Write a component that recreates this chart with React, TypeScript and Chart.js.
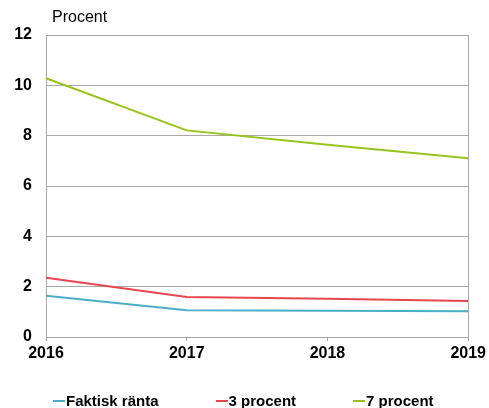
import React, { useEffect, useRef } from "react";
import { Chart, registerables } from "chart.js";

Chart.register(...registerables);

// Years on the x axis
const years = ["2016", "2017", "2018", "2019"];

// Interest rate paths, percent
const faktiskRanta = [1.64, 1.06, 1.04, 1.02];
const treProcent = [2.35, 1.59, 1.52, 1.43];
const sjuProcent = [10.28, 8.21, 7.64, 7.1];

const seriesNames = ["Faktisk ränta", "3 procent", "7 procent"];
const seriesColors = ["#4aafc6", "#e8464e", "#99c31a"];

const FONT = "'Liberation Sans', Arial, Helvetica, sans-serif";
const GRID = "#a8a8a8";

// Draws the right-hand frame line of the plot area
const rightBorder = {
  id: "rightBorder",
  afterDraw(chart: any) {
    const { ctx, chartArea } = chart;
    const x = Math.round(chartArea.right) + 0.5;
    ctx.save();
    ctx.strokeStyle = GRID;
    ctx.lineWidth = 1;
    ctx.beginPath();
    ctx.moveTo(x, chartArea.top);
    ctx.lineTo(x, chartArea.bottom);
    ctx.stroke();
    ctx.restore();
  },
};

export default function App() {
  const canvasRef = useRef<HTMLCanvasElement | null>(null);

  useEffect(() => {
    const canvas = canvasRef.current;
    if (!canvas) return;
    const data = [faktiskRanta, treProcent, sjuProcent];
    const chart = new Chart(canvas, {
      type: "line",
      data: {
        labels: years,
        datasets: data.map((values, i) => ({
          label: seriesNames[i],
          data: values,
          borderColor: seriesColors[i],
          backgroundColor: seriesColors[i],
          borderWidth: 2,
          pointRadius: 0,
          tension: 0,
          fill: false,
        })),
      },
      options: {
        animation: false,
        responsive: false,
        maintainAspectRatio: false,
        layout: { padding: { top: 35, right: 0, bottom: 41, left: 0 } },
        plugins: {
          legend: { display: false },
          tooltip: { enabled: false },
        },
        scales: {
          x: {
            type: "category",
            offset: false,
            grid: {
              display: true,
              drawOnChartArea: false,
              drawTicks: true,
              tickLength: 4,
              color: GRID,
            },
            border: { display: true, color: GRID, width: 1 },
            ticks: {
              color: "#000",
              padding: 3,
              maxRotation: 0,
              autoSkip: false,
              font: { family: FONT, size: 16, weight: "bold" },
            },
            afterFit(scale: any) {
              scale.height = 30;
            },
          },
          y: {
            min: 0,
            max: 12,
            grid: { color: GRID, drawTicks: false, lineWidth: 1 },
            border: { display: true, color: GRID, width: 1 },
            ticks: {
              stepSize: 2,
              color: "#000",
              padding: 14,
              font: { family: FONT, size: 16, weight: "bold" },
            },
            afterFit(scale: any) {
              scale.width = 46;
            },
          },
        },
      },
      plugins: [rightBorder],
    });
    return () => chart.destroy();
  }, []);

  return (
    <div
      style={{
        position: "fixed",
        left: 0,
        top: 0,
        width: 489,
        height: 408,
        background: "#fff",
        fontFamily: FONT,
      }}
    >
      <canvas ref={canvasRef} width={489} height={408} style={{ display: "block" }} />
      <div
        style={{
          position: "absolute",
          left: 52,
          top: 8,
          fontSize: 16,
          color: "#000",
          lineHeight: "18px",
        }}
      >
        Procent
      </div>
      <div
        style={{
          position: "absolute",
          left: 53,
          top: 392,
          display: "flex",
          gap: 57,
          alignItems: "center",
          fontSize: 15,
          fontWeight: "bold",
          color: "#000",
          lineHeight: "18px",
        }}
      >
        {seriesNames.map((name, i) => (
          <div key={name} style={{ display: "flex", alignItems: "center" }}>
            <span
              style={{
                display: "inline-block",
                width: 12,
                height: 2,
                background: seriesColors[i],
                marginRight: 1,
              }}
            />
            <span>{name}</span>
          </div>
        ))}
      </div>
    </div>
  );
}
